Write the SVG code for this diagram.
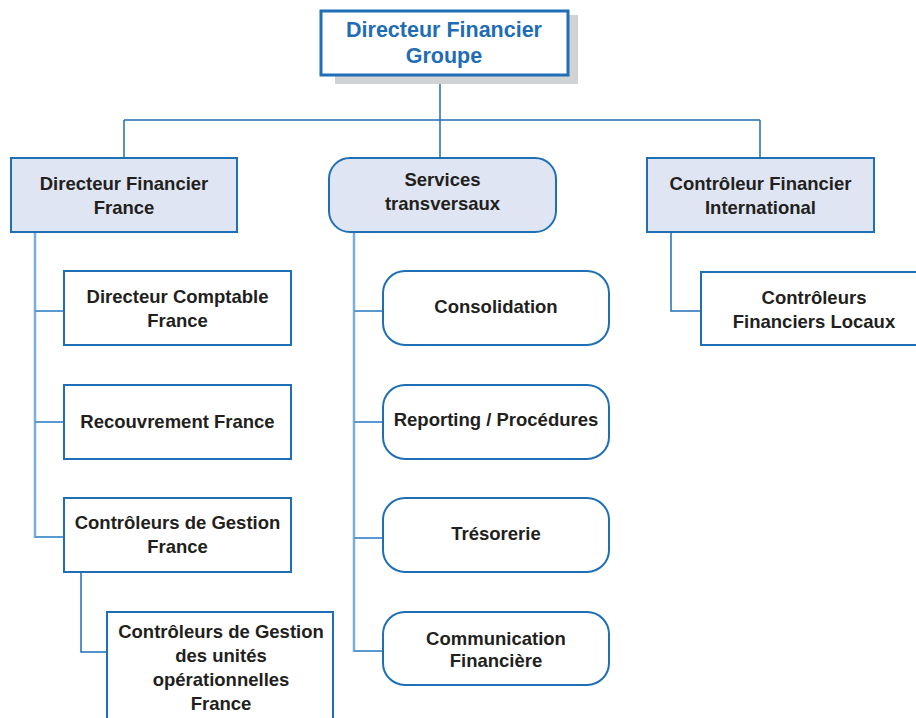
<svg xmlns="http://www.w3.org/2000/svg" width="916" height="718" viewBox="0 0 916 718">
<style>
.box{fill:#ffffff;stroke:#1f6fb6;stroke-width:2}
.hd{fill:#dfe5f2;stroke:#1f6fb6;stroke-width:2}
.t{font-family:"Liberation Sans",Arial,sans-serif;font-weight:bold;font-size:18.5px;fill:#231f20;text-anchor:middle}
.tb{font-family:"Liberation Sans",Arial,sans-serif;font-weight:bold;font-size:21.5px;fill:#1f6db5;text-anchor:middle}
.c{fill:none;stroke:#1f6fb6;stroke-width:1.5}
.cl{fill:none;stroke:#7aaedb;stroke-width:2.5}
.cs{fill:none;stroke:#5a98d0;stroke-width:1.8}
</style>
<rect width="916" height="718" fill="#ffffff"/>
<g id="connectors">
<path class="c" d="M440 75V120M124 120H760M124 120V158M440 120V158M760 120V158"/>
<path class="cl" d="M35 232V538M354 232V652"/>
<path class="cs" d="M35 311H64M35 422H64M35 537H64M354 311H383M354 422H383M354 538H383M354 651H383"/>
<path class="c" d="M671 232V311H701M81 572V652H107"/>
</g>
<g id="n-groupe">
<rect x="335" y="15" width="243" height="69" fill="#d1d2d4"/>
<rect x="321" y="11" width="247" height="64" fill="#ffffff" stroke="#1f6fb6" stroke-width="3"/>
<text class="tb" x="444" y="37">Directeur Financier</text>
<text class="tb" x="444" y="63">Groupe</text>
</g>
<g id="n-dff">
<rect class="hd" x="11" y="158" width="226" height="74"/>
<text class="t" x="124" y="190">Directeur Financier</text>
<text class="t" x="124" y="214">France</text>
</g>
<g id="n-services">
<rect class="hd" x="329" y="158" width="227" height="74" rx="21"/>
<text class="t" x="442.5" y="186">Services</text>
<text class="t" x="442.5" y="210">transversaux</text>
</g>
<g id="n-cfi">
<rect class="hd" x="647" y="158" width="227" height="74"/>
<text class="t" x="760.5" y="190">Contrôleur Financier</text>
<text class="t" x="760.5" y="214">International</text>
</g>
<g id="n-dcf">
<rect class="box" x="64" y="271" width="227" height="74"/>
<text class="t" x="177.5" y="303">Directeur Comptable</text>
<text class="t" x="177.5" y="327">France</text>
</g>
<g id="n-recouvrement">
<rect class="box" x="64" y="385" width="227" height="74"/>
<text class="t" x="177.5" y="428">Recouvrement France</text>
</g>
<g id="n-cgf">
<rect class="box" x="64" y="498" width="227" height="74"/>
<text class="t" x="177.5" y="529">Contrôleurs de Gestion</text>
<text class="t" x="177.5" y="553">France</text>
</g>
<g id="n-cguo">
<rect class="box" x="107" y="612" width="226" height="120"/>
<text class="t" x="221" y="638">Contrôleurs de Gestion</text>
<text class="t" x="221" y="662">des unités</text>
<text class="t" x="221" y="686">opérationnelles</text>
<text class="t" x="221" y="710">France</text>
</g>
<g id="n-consolidation">
<rect class="box" x="383" y="271" width="226" height="74" rx="22"/>
<text class="t" x="496" y="313">Consolidation</text>
</g>
<g id="n-reporting">
<rect class="box" x="383" y="385" width="226" height="74" rx="22"/>
<text class="t" x="496" y="426">Reporting / Procédures</text>
</g>
<g id="n-tresorerie">
<rect class="box" x="383" y="498" width="226" height="74" rx="22"/>
<text class="t" x="496" y="540">Trésorerie</text>
</g>
<g id="n-communication">
<rect class="box" x="383" y="612" width="226" height="73" rx="22"/>
<text class="t" x="496" y="645">Communication</text>
<text class="t" x="496" y="667">Financière</text>
</g>
<g id="n-cfl">
<rect class="box" x="701" y="272" width="227" height="73"/>
<text class="t" x="814" y="304">Contrôleurs</text>
<text class="t" x="814" y="328">Financiers Locaux</text>
</g>
</svg>
